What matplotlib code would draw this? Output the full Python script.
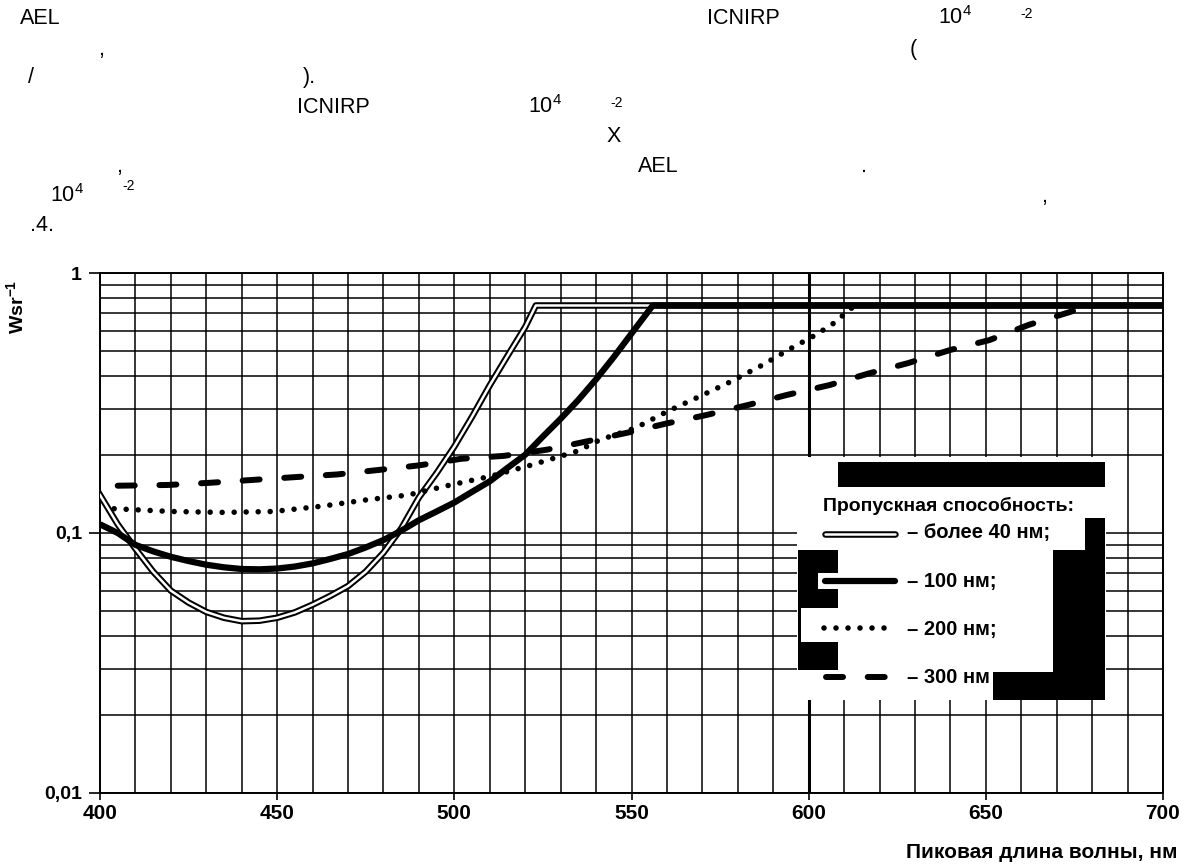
import numpy as np
import matplotlib
matplotlib.use("Agg")
import matplotlib.pyplot as plt
from matplotlib.lines import Line2D
from matplotlib.patches import Rectangle
from matplotlib.ticker import FixedLocator, MultipleLocator, LogLocator, NullFormatter

plt.rcParams['font.family'] = ['Liberation Sans', 'DejaVu Sans']
plt.rcParams['mathtext.fontset'] = 'custom'
plt.rcParams['mathtext.rm'] = 'Liberation Sans'
plt.rcParams['mathtext.bf'] = 'Liberation Sans:bold'
plt.rcParams['mathtext.default'] = 'regular'

# ---------------- data ----------------
wl_40 = [400, 405, 410, 415, 420, 425, 430, 435, 440, 445, 450, 455, 460, 465, 470, 475, 480,
         485, 490, 495, 500, 505, 510, 515, 520, 523, 700]
val_40 = [0.140, 0.108, 0.087, 0.071, 0.060, 0.054, 0.0497, 0.0472, 0.0458, 0.0460, 0.0472,
          0.0495, 0.053, 0.0573, 0.0625, 0.071, 0.084, 0.104, 0.137, 0.17, 0.215, 0.28, 0.37,
          0.48, 0.62, 0.75, 0.75]

wl_100 = [400, 405, 410, 415, 420, 425, 430, 435, 440, 445, 450, 455, 460, 465, 470, 475, 480,
          485, 490, 495, 500, 505, 510, 515, 520, 525, 530, 535, 540, 545, 550, 556, 700]
val_100 = [0.108, 0.100, 0.090, 0.085, 0.081, 0.078, 0.0755, 0.0738, 0.0727, 0.0725, 0.073,
           0.0743, 0.0764, 0.0795, 0.083, 0.088, 0.094, 0.102, 0.112, 0.121, 0.131, 0.144,
           0.158, 0.178, 0.20, 0.235, 0.275, 0.325, 0.39, 0.475, 0.585, 0.75, 0.75]

wl_200 = [404, 420, 435, 449, 463, 475, 487, 497, 510, 522, 535, 541, 551, 560, 569, 578, 587,
          595, 602, 607, 613]
val_200 = [0.124, 0.121, 0.12, 0.121, 0.127, 0.134, 0.14, 0.151, 0.165, 0.183, 0.207, 0.228,
           0.253, 0.293, 0.334, 0.382, 0.443, 0.513, 0.578, 0.64, 0.75]

wl_300 = [405, 419, 431, 443, 455, 467, 479, 490, 502, 514, 526, 536, 550, 560, 571, 583, 594,
          606, 617, 628, 640, 651, 662, 674, 679]
val_300 = [0.152, 0.153, 0.156, 0.16, 0.164, 0.168, 0.175, 0.182, 0.193, 0.198, 0.209, 0.223,
           0.245, 0.264, 0.284, 0.311, 0.34, 0.371, 0.411, 0.45, 0.506, 0.552, 0.631, 0.71, 0.75]

x_ticks = [400, 450, 500, 550, 600, 650, 700]
x_ticklabels = ['400', '450', '500', '550', '600', '650', '700']
y_ticks = [0.01, 0.1, 1]
y_ticklabels = ['0,01', '0,1', '1']

x_label = 'Пиковая длина волны, нм'
y_label = r'$\mathbf{Wsr}^{\mathbf{-1}}$'
legend_title = 'Пропускная способность:'
legend_labels = ['– более 40 нм;', '– 100 нм;', '– 200 нм;', '– 300 нм']

header_words = ["AEL", "ICNIRP", "10$^{4}$", "-2",
                ",", "(",
                "/", ").",
                "ICNIRP", "10$^{4}$", "-2",
                "X",
                ",", "AEL", ".",
                "10$^{4}$", "-2", ",",
                ".4."]

# ---------------- layout ----------------
W, H, DPI = 1191, 868, 100
fig = plt.figure(figsize=(W / DPI, H / DPI), dpi=DPI)


def fx(px):
    return px / W


def fy(py):
    return 1 - py / H


ax = fig.add_axes([fx(100), fy(793), fx(1163) - fx(100), fy(273) - fy(793)])
ax.set_yscale('log')
ax.set_xlim(400, 700)
ax.set_ylim(0.01, 1)

ax.xaxis.set_major_locator(FixedLocator(x_ticks))
ax.set_xticklabels(x_ticklabels)
ax.xaxis.set_minor_locator(MultipleLocator(10))
ax.yaxis.set_major_locator(FixedLocator(y_ticks))
ax.set_yticklabels(y_ticklabels)
ax.yaxis.set_minor_locator(LogLocator(base=10, subs=np.arange(2, 10)))
ax.yaxis.set_minor_formatter(NullFormatter())

ax.grid(which='both', color='black', lw=1.1)
ax.axvline(600, color='black', lw=2.2, zorder=1)
ax.set_axisbelow(True)
for s in ax.spines.values():
    s.set_linewidth(1.4)

ax.tick_params(axis='x', which='major', length=5, width=1.2, pad=3, labelsize=15)
ax.tick_params(axis='y', which='major', length=8, width=1.2, pad=5, labelsize=14)
ax.tick_params(which='minor', length=0)
for lab in ax.get_xticklabels() + ax.get_yticklabels():
    lab.set_fontweight('bold')

# curves
ax.plot(wl_40, val_40, color='black', lw=4.7, solid_joinstyle='round', zorder=3)
ax.plot(wl_40, val_40, color='white', lw=1.8, solid_joinstyle='round', zorder=3.1)
ax.plot(wl_100, val_100, color='black', lw=4.5, solid_joinstyle='round',
        solid_capstyle='butt', zorder=3.3)
ax.plot(wl_200, val_200, color='black', lw=4.0, linestyle=(0, (0.001, 2.16)),
        dash_capstyle='round', zorder=3.2)
ax.plot(wl_300, val_300, color='black', lw=4.3, linestyle=(0, (2.85, 4.13)),
        dash_capstyle='round', zorder=3.2)

fig.text(fx(1177), fy(852), x_label, ha='right', va='center', fontsize=15,
         fontweight='bold')
fig.text(fx(16), fy(307), y_label, ha='center', va='center', rotation=90, fontsize=14)

# ---------------- legend box (with scan blotches) ----------------
def rect(x0, y0, x1, y1, color):
    fig.patches.append(Rectangle((fx(x0), fy(y1)), fx(x1) - fx(x0), fy(y0) - fy(y1),
                                 transform=fig.transFigure, facecolor=color,
                                 edgecolor='none', zorder=5))


rect(797, 457, 1106, 700, 'white')
rect(838, 462, 1105, 487, 'black')
rect(1085, 518, 1105, 551, 'black')
rect(1053, 550, 1105, 673, 'black')
rect(993, 672, 1105, 700, 'black')
rect(798, 550, 838, 608, 'black')
rect(818, 573, 838, 589, 'white')
rect(798, 608, 801, 642, 'black')
rect(798, 642, 838, 670, 'black')

fig.text(fx(823), fy(511), legend_title, ha='left', va='baseline', fontsize=14,
         fontweight='bold', zorder=6)

sample_rows = [533.5, 581, 628, 677]
for lab, yy in zip(legend_labels, [538, 587, 635, 683]):
    fig.text(fx(907), fy(yy), lab, ha='left', va='baseline', fontsize=14.5,
             fontweight='bold', zorder=6)

fig.add_artist(Line2D([fx(825), fx(895)], [fy(sample_rows[0])] * 2, color='black', lw=4.7,
                      solid_capstyle='round', transform=fig.transFigure, zorder=6))
fig.add_artist(Line2D([fx(825), fx(895)], [fy(sample_rows[0])] * 2, color='white', lw=1.8,
                      solid_capstyle='round', transform=fig.transFigure, zorder=6.1))
fig.add_artist(Line2D([fx(825), fx(895)], [fy(sample_rows[1])] * 2, color='black', lw=4.5,
                      solid_capstyle='round', transform=fig.transFigure, zorder=6))
fig.add_artist(Line2D([fx(824), fx(887)], [fy(sample_rows[2])] * 2, color='black', lw=4.0,
                      linestyle=(0, (0.001, 2.16)), dash_capstyle='round',
                      transform=fig.transFigure, zorder=6))
fig.add_artist(Line2D([fx(826), fx(887)], [fy(sample_rows[3])] * 2, color='black', lw=4.3,
                      linestyle=(0, (2.85, 4.13)), dash_capstyle='round',
                      transform=fig.transFigure, zorder=6))

# ---------------- header fragments ----------------
header_pos = [(20, 24.5, 15.5), (707, 24.5, 15.5), (938, 24.5, 15.5), (1020, 18, 10),
              (98, 55, 15.5), (910, 55, 15.5),
              (28, 83, 15.5), (303, 83, 15.5),
              (297, 113, 15.5), (528, 113, 15.5), (610, 107, 10),
              (607, 142, 15.5),
              (116, 172, 15.5), (638, 172, 15.5), (861, 172, 15.5),
              (50, 202, 15.5), (122, 190, 10), (1041, 202, 15.5),
              (30, 231, 15.5)]
for word, (px, py, sz) in zip(header_words, header_pos):
    fig.text(fx(px), fy(py), word, ha='left', va='baseline', fontsize=sz)

fig.savefig('out.png', dpi=DPI)
